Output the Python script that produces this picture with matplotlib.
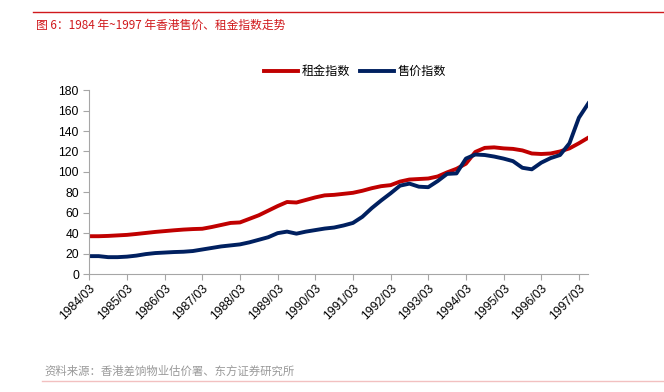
import numpy as np
import matplotlib
matplotlib.use("Agg")
import matplotlib.pyplot as plt
from matplotlib.lines import Line2D

plt.rcParams['font.family'] = ['Liberation Sans', 'Noto Sans CJK SC', 'DejaVu Sans']

# quarterly index, 1984/03 .. 1997/06
years = list(range(1984, 1998))
tick_labels = ["%d/03" % y for y in years]

rent = [37, 37, 37.3, 37.8, 38.3, 39.2, 40.2, 41.2, 42, 42.8,
        43.5, 44, 44.3, 46, 48, 50, 50.5, 54, 57.5, 62,
        66.5, 70.5, 70, 72.5, 75, 77, 77.5, 78.5, 79.5, 81.5,
        84, 86, 87, 90.5, 92.5, 93, 93.5, 95.5, 99.5, 103,
        108, 119.5, 123.5, 124, 123, 122.5, 121, 118, 117.5, 118,
        120, 123, 128, 133.5]
price = [17.5, 17.5, 16.5, 16.5, 17, 18, 19.5, 20.5, 21, 21.5,
         21.8, 22.5, 24, 25.5, 27, 28, 29, 31, 33.5, 36,
         40, 41.5, 39.5, 41.5, 43, 44.5, 45.5, 47.5, 50, 56,
         64.5, 72, 79, 86.5, 88.5, 85.5, 85, 91, 98, 98.5,
         113, 117, 116.5, 115, 113, 110.5, 104, 102.5, 109, 113.5,
         116.5, 128, 153, 167]

red = '#c00000'
navy = '#002060'
grey_axis = '#a6a6a6'
cjk = ['Noto Sans CJK SC', 'DejaVu Sans']

fig = plt.figure(figsize=(6.64, 3.92), dpi=100)
ax = fig.add_axes([0.1345, 0.301, 0.7515, 0.469])

x = np.arange(len(rent))
ax.plot(x, rent, color=red, lw=2.8, solid_joinstyle='round')
ax.plot(x, price, color=navy, lw=2.8, solid_joinstyle='round')

ax.set_xlim(0, len(rent) - 1)
ax.set_ylim(0, 180)
ax.set_yticks(np.arange(0, 181, 20))
ax.set_xticks(np.arange(0, len(years) * 4, 4))
ax.set_xticklabels(tick_labels, rotation=45, ha='right', rotation_mode='anchor')

for s in ['top', 'right']:
    ax.spines[s].set_visible(False)
for s in ['left', 'bottom']:
    ax.spines[s].set_color(grey_axis)
    ax.spines[s].set_linewidth(0.8)
ax.tick_params(axis='both', colors=grey_axis, labelcolor='black', labelsize=8.7,
               length=4, width=0.8, direction='out')
ax.tick_params(axis='x', pad=2)

handles = [Line2D([0], [0], color=red, lw=2.8), Line2D([0], [0], color=navy, lw=2.8)]
fig.legend(handles, ['租金指数', '售价指数'], loc='center', bbox_to_anchor=(0.535, 0.818),
           ncol=2, frameon=False, handlelength=2.8, handletextpad=0.3,
           columnspacing=0.8, prop={'family': cjk, 'size': 8.7})

# header / footer
fig.add_artist(Line2D([33 / 664, 1.0], [1 - 12 / 392] * 2, color='#d0191c', lw=1.0))
fig.text(36 / 664, 1 - 25 / 392, '图 6：1984 年~1997 年香港售价、租金指数走势', color='#d0191c',
         fontsize=8.5, va='center', ha='left', family=cjk)
fig.add_artist(Line2D([42 / 664, 1.0], [1 - 381 / 392] * 2, color='#f2c0c0', lw=1.0))
fig.text(44 / 664, 1 - 371 / 392, '资料来源：香港差饷物业估价署、东方证券研究所', color='#999999',
         fontsize=8.2, va='center', ha='left', family=cjk)

fig.savefig('out.png', dpi=100)
